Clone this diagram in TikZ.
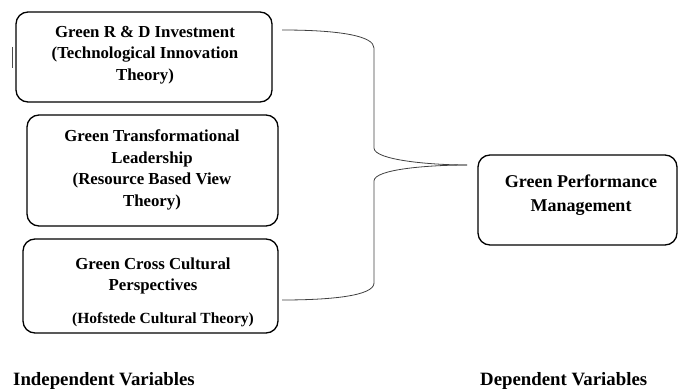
\documentclass[tikz,border=0pt]{standalone}
\usepackage{fontspec}
\setmainfont{Liberation Serif}
\begin{document}
\begin{tikzpicture}[x=1pt,y=-1pt,
  box/.style={draw=black,line width=1.3pt,rounded corners=12pt},
  lbl/.style={font=\fontsize{16.8}{21.5}\selectfont\bfseries,align=center,inner sep=0pt},
  big/.style={font=\fontsize{18}{24}\selectfont\bfseries,align=center,inner sep=0pt},
  brace/.style={draw=black!75,line width=0.8pt}]
\useasboundingbox (0,0) rectangle (679,390);
% boxes
\draw[box] (16,12) rectangle (272,102);
\draw[box] (27,115) rectangle (278,226);
\draw[box] (23,239) rectangle (278,333);
\draw[box] (478,155) rectangle (677,245);
% texts
\node[lbl] (t1) at (145,55) {Green R \& D Investment\\(Technological Innovation\\Theory)};
\node[lbl] (t2) at (152,170) {Green Transformational\\Leadership\\(Resource Based View\\Theory)};
\node[lbl] (t3a) at (153,276) {Green Cross Cultural\\Perspectives};
\node[lbl,font=\fontsize{15.5}{20}\selectfont\bfseries] (t3b) at (163,320) {(Hofstede Cultural Theory)};
\node[big] (t4) at (581,195) {Green Performance\\Management};
\node[big,font=\fontsize{18.8}{24}\selectfont\bfseries,anchor=west] (iv) at (13,381) {Independent Variables};
\node[big,font=\fontsize{18.8}{24}\selectfont\bfseries,anchor=west] (dv) at (480,381) {Dependent Variables};
% stray mark
\coordinate (s1) at (12,47);
\coordinate (s2) at (12,68);
\draw[line width=0.8pt,black!70] (s1) -- (s2);
% brace
\coordinate (b1) at (282,30);
\coordinate (b2) at (374,48);
\coordinate (b3) at (374,148);
\coordinate (tip) at (467,165);
\coordinate (b4) at (374,181);
\coordinate (b5) at (374,283);
\coordinate (b6) at (282,300);
\draw[brace] (b1) .. controls (340,30) and (374,36) .. (b2) -- (b3)
  .. controls (374,160) and (430,165) .. (tip);
\draw[brace] (tip) .. controls (430,165) and (374,169) .. (b4) -- (b5)
  .. controls (374,296) and (330,300) .. (b6);
\end{tikzpicture}
\end{document}
